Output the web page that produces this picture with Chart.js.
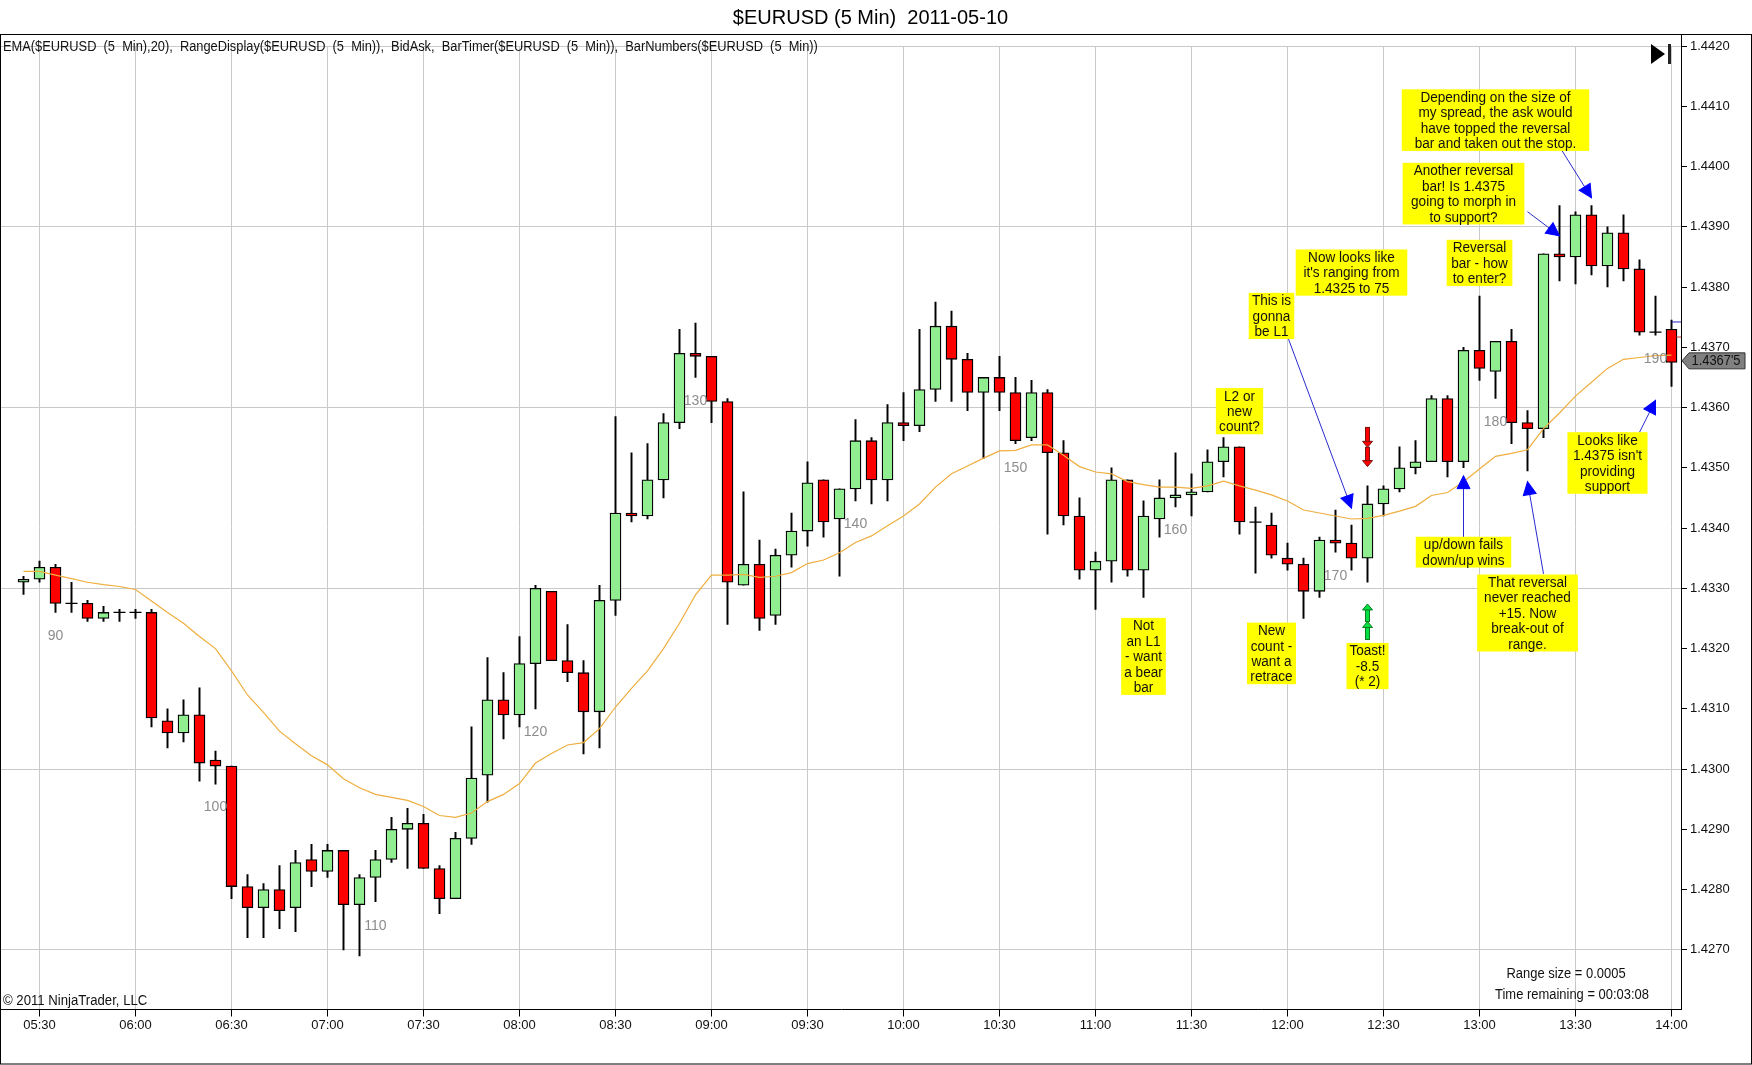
<!DOCTYPE html>
<html>
<head>
<meta charset="utf-8">
<title>$EURUSD (5 Min) 2011-05-10</title>
<script src="https://cdn.jsdelivr.net/npm/chart.js@4"></script>
<style>
    body { margin: 0; background: #fff; }
    canvas { display: block; }
</style>
</head>
<body>
<canvas id="priceChart" width="1752" height="1065"></canvas>
<script>
const opens = [1.4331,1.43315,1.43335,1.43275,1.43275,1.4325,1.4326,1.4326,1.4326,1.4308,1.4306,1.4309,1.43015,1.43005,1.42805,1.4277,1.428,1.4277,1.4285,1.4283,1.42865,1.42775,1.4282,1.4285,1.429,1.4291,1.42835,1.42785,1.42885,1.4299,1.43115,1.4309,1.43175,1.43295,1.4318,1.4316,1.43095,1.4328,1.43425,1.4342,1.4348,1.43575,1.4369,1.43685,1.4361,1.43305,1.4334,1.43255,1.43355,1.43395,1.4348,1.43415,1.43465,1.43545,1.4348,1.43575,1.4357,1.4363,1.43735,1.4368,1.43625,1.4365,1.43625,1.4355,1.43625,1.43525,1.4342,1.4333,1.43345,1.4348,1.4333,1.43415,1.4345,1.43455,1.4346,1.4351,1.43535,1.4341,1.43405,1.4335,1.4334,1.43295,1.4338,1.43375,1.4335,1.4344,1.43465,1.435,1.4351,1.43615,1.4351,1.43695,1.4366,1.4371,1.43575,1.43565,1.43855,1.4385,1.4392,1.43835,1.4389,1.4383,1.43725,1.4373];
const highs = [1.4332,1.43345,1.4334,1.4331,1.4328,1.4327,1.43265,1.43265,1.43265,1.431,1.43115,1.43135,1.4303,1.43005,1.42825,1.4281,1.4284,1.42865,1.42875,1.42875,1.42865,1.42825,1.42865,1.4292,1.42935,1.42925,1.4284,1.42895,1.4307,1.43185,1.4316,1.4322,1.43305,1.43295,1.4324,1.4318,1.43305,1.43585,1.43525,1.4354,1.4359,1.4373,1.4374,1.43685,1.43615,1.4346,1.4338,1.43365,1.43425,1.4351,1.4348,1.43465,1.4358,1.4355,1.43605,1.43625,1.4373,1.43775,1.4376,1.4369,1.4365,1.43685,1.4365,1.43645,1.4363,1.43545,1.4345,1.4336,1.435,1.4348,1.43445,1.4348,1.43525,1.4349,1.4353,1.4355,1.43535,1.43435,1.43425,1.43375,1.4335,1.43385,1.4343,1.43405,1.4347,1.4347,1.43535,1.43545,1.4362,1.4362,1.437,1.43785,1.4371,1.4373,1.43595,1.43855,1.43935,1.43925,1.43935,1.439,1.4392,1.43845,1.43785,1.43745];
const lows = [1.4329,1.4331,1.4326,1.4326,1.43245,1.43245,1.43245,1.4325,1.4307,1.43035,1.43045,1.4298,1.42975,1.42785,1.4272,1.4272,1.42735,1.4273,1.42805,1.4282,1.427,1.4269,1.4278,1.42845,1.42835,1.42835,1.4276,1.42785,1.42875,1.42945,1.4305,1.4307,1.431,1.4318,1.43145,1.43025,1.43035,1.43255,1.4341,1.43415,1.4345,1.43565,1.4365,1.43575,1.4324,1.43305,1.4323,1.4324,1.43335,1.4337,1.43385,1.4332,1.43445,1.4344,1.43445,1.43545,1.4356,1.4361,1.4361,1.43595,1.43515,1.43595,1.4354,1.43545,1.4339,1.43405,1.43315,1.43265,1.4331,1.4332,1.43285,1.43385,1.43435,1.4342,1.4346,1.43485,1.4339,1.43325,1.4335,1.4333,1.4325,1.43285,1.4336,1.4333,1.4331,1.4342,1.4346,1.4349,1.4351,1.43485,1.435,1.43645,1.43615,1.4354,1.43495,1.4355,1.4381,1.43805,1.4382,1.438,1.4381,1.4372,1.4372,1.43635];
const closes = [1.43315,1.43335,1.43275,1.43275,1.4325,1.4326,1.4326,1.4326,1.43085,1.4306,1.4309,1.4301,1.43005,1.42805,1.4277,1.428,1.42765,1.42845,1.4283,1.42865,1.42775,1.4282,1.4285,1.429,1.4291,1.42835,1.42785,1.42885,1.42985,1.43115,1.4309,1.43175,1.433,1.4318,1.4316,1.43095,1.4328,1.43425,1.4342,1.4348,1.43575,1.4369,1.43685,1.4361,1.4331,1.4334,1.4325,1.43355,1.43395,1.43475,1.4341,1.43465,1.43545,1.4348,1.43575,1.4357,1.4363,1.43735,1.4368,1.43625,1.4365,1.43625,1.43545,1.43625,1.43525,1.4342,1.4333,1.43345,1.4348,1.4333,1.4342,1.4345,1.43455,1.4346,1.4351,1.43535,1.4341,1.4341,1.43355,1.4334,1.43295,1.4338,1.43375,1.4335,1.4344,1.43465,1.435,1.4351,1.43615,1.4351,1.43695,1.43665,1.4371,1.43575,1.43565,1.43855,1.4385,1.4392,1.43835,1.4389,1.4383,1.43725,1.43725,1.43675];
const ema20 = [1.43328,1.43328,1.43322,1.43316,1.4331,1.43306,1.43303,1.43298,1.43279,1.4326,1.43242,1.4322,1.432,1.43163,1.43123,1.43094,1.43063,1.43042,1.43022,1.43007,1.42984,1.42969,1.42958,1.42953,1.42948,1.42938,1.42923,1.4292,1.42927,1.42946,1.42958,1.42976,1.4301,1.43026,1.4304,1.43044,1.43067,1.43103,1.43134,1.43163,1.432,1.43242,1.43289,1.43322,1.43322,1.43323,1.43318,1.4332,1.43326,1.43341,1.43347,1.43359,1.43376,1.43387,1.43404,1.4342,1.4344,1.43468,1.4349,1.43503,1.43516,1.43528,1.43529,1.43538,1.43538,1.43521,1.43502,1.43493,1.4349,1.43477,1.43472,1.43468,1.43468,1.43466,1.4347,1.43478,1.4347,1.43463,1.43455,1.43445,1.4343,1.43425,1.4342,1.43415,1.43416,1.43421,1.43428,1.43436,1.43454,1.43459,1.43477,1.43498,1.43519,1.43524,1.4353,1.43565,1.43591,1.43619,1.43642,1.43665,1.4368,1.43683,1.43686,1.43687];

const xTickBars = [1,7,13,19,25,31,37,43,49,55,61,67,73,79,85,91,97,103];
const xTickLabels = ['05:30','06:00','06:30','07:00','07:30','08:00','08:30','09:00','09:30','10:00','10:30','11:00','11:30','12:00','12:30','13:00','13:30','14:00'];
const yTickValues = [1.4270,1.4280,1.4290,1.4300,1.4310,1.4320,1.4330,1.4340,1.4350,1.4360,1.4370,1.4380,1.4390,1.4400,1.4410,1.4420];
const yGridValues = [1.4270,1.4300,1.4330,1.4360,1.4390,1.4420];

const barNumbers = [90,100,110,120,130,140,150,160,170,180,190];
const barNumberBars = [2,12,22,32,42,52,62,72,82,92,102];
const barNumberPrices = [1.4322,1.42937,1.4274,1.43061,1.4361,1.43407,1.435,1.43396,1.43321,1.43575,1.43681];

const noteLines = [
    ['Depending on the size of','my spread, the ask would','have topped the reversal','bar and taken out the stop.'],
    ['Another reversal','bar! Is 1.4375','going to morph in','to support?'],
    ['Now looks like',"it's ranging from",'1.4325 to 75'],
    ['Reversal','bar - how','to enter?'],
    ['This is','gonna','be L1'],
    ['L2 or','new','count?'],
    ['Looks like',"1.4375 isn't",'providing','support'],
    ['up/down fails','down/up wins'],
    ['That reversal','never reached','+15. Now','break-out of','range.'],
    ['Toast!','-8.5','(* 2)'],
    ['New','count -','want a','retrace'],
    ['Not','an L1','- want','a bear','bar']
];
const noteBars = [92,90,83,91,78,76,99,90,94,84,78,70];
const notePrices = [1.44077,1.43955,1.43824,1.4384,1.43752,1.43594,1.43508,1.4336,1.43259,1.43171,1.43192,1.43187];

const arrowFromBars = [96,94,79,90,95,101];
const arrowFromPrices = [1.44033,1.43925,1.43718,1.43383,1.43324,1.43559];
const arrowToBars = [98,96,83,90,94,102];
const arrowToPrices = [1.43948,1.43885,1.43433,1.43487,1.43477,1.43612];

const tradeBar = 84;
const stopArrows = [[1.43567,1.43534],[1.43534,1.43502]];
const entryArrows = [[1.43215,1.43245],[1.43245,1.43274]];

const lastPriceLabel = "1.4367'5";
const askPrice = 1.43742;
const bidPrice = 1.43717;

const upColor = '#90EE90';
const downColor = '#FF0000';
const gridColor = '#C9C9C9';
const sansFont = '"Liberation Sans", Arial, sans-serif';

const bars = opens.map((o, i) => i);

// the screenshot's text is narrower than the font, so squeeze it sideways
function squeezedText(ctx, text, x, y, factor) {
    ctx.save();
    ctx.translate(x, y);
    ctx.scale(factor, 1);
    ctx.fillText(text, 0, 0);
    ctx.restore();
}

function drawHead(ctx, x1, y1, x2, y2, size, halfWidth) {
    const angle = Math.atan2(y2 - y1, x2 - x1);
    ctx.save();
    ctx.translate(x2, y2);
    ctx.rotate(angle);
    ctx.beginPath();
    ctx.moveTo(0, 0);
    ctx.lineTo(-size, -halfWidth);
    ctx.lineTo(-size, halfWidth);
    ctx.closePath();
    ctx.fill();
    ctx.stroke();
    ctx.restore();
}

function drawTradeArrow(ctx, x, yFrom, yTo, color, edge) {
    const dir = yTo > yFrom ? 1 : -1;
    ctx.fillStyle = color;
    ctx.strokeStyle = edge;
    ctx.lineWidth = 1;
    ctx.fillRect(x - 2, yFrom, 4, yTo - yFrom - dir * 5);
    ctx.strokeRect(x - 2, yFrom, 4, yTo - yFrom - dir * 5);
    drawHead(ctx, x, yFrom, x, yTo, 6, 5);
}

const annotationPlugin = {
    id: 'annotations',
    afterDatasetsDraw(chart) {
        const ctx = chart.ctx;
        const xs = chart.scales.x;
        const ys = chart.scales.y;

        // bar numbers
        ctx.save();
        ctx.fillStyle = '#8c8c8c';
        ctx.font = '14px ' + sansFont;
        ctx.textAlign = 'center';
        ctx.textBaseline = 'middle';
        barNumbers.forEach((n, i) => {
            ctx.fillText(String(n), xs.getPixelForValue(barNumberBars[i]), ys.getPixelForValue(barNumberPrices[i]));
        });
        ctx.restore();

        // bid and ask dashes on the last bar
        const lastX = xs.getPixelForValue(bars[bars.length - 1]);
        ctx.save();
        ctx.lineWidth = 1;
        ctx.strokeStyle = '#2020c0';
        ctx.beginPath();
        ctx.moveTo(lastX, ys.getPixelForValue(askPrice));
        ctx.lineTo(chart.chartArea.right, ys.getPixelForValue(askPrice));
        ctx.stroke();
        ctx.strokeStyle = '#d03030';
        ctx.beginPath();
        ctx.moveTo(lastX + 5, ys.getPixelForValue(bidPrice));
        ctx.lineTo(chart.chartArea.right, ys.getPixelForValue(bidPrice));
        ctx.stroke();
        ctx.restore();

        // note arrows go under the yellow boxes
        ctx.save();
        arrowFromBars.forEach((b, i) => {
            const x1 = xs.getPixelForValue(b);
            const y1 = ys.getPixelForValue(arrowFromPrices[i]);
            const x2 = xs.getPixelForValue(arrowToBars[i]);
            const y2 = ys.getPixelForValue(arrowToPrices[i]);
            ctx.strokeStyle = '#2a2ad0';
            ctx.lineWidth = 1;
            ctx.beginPath();
            ctx.moveTo(x1, y1);
            ctx.lineTo(x2, y2);
            ctx.stroke();
            ctx.fillStyle = '#0000FF';
            ctx.strokeStyle = '#0000FF';
            drawHead(ctx, x1, y1, x2, y2, 13, 6.5);
        });
        ctx.restore();

        // yellow notes
        ctx.save();
        ctx.font = '14px ' + sansFont;
        ctx.textAlign = 'center';
        ctx.textBaseline = 'middle';
        noteLines.forEach((lines, i) => {
            const cx = xs.getPixelForValue(noteBars[i]);
            const cy = ys.getPixelForValue(notePrices[i]);
            const w = Math.max(...lines.map(l => ctx.measureText(l).width)) * 0.97 * 1.16;
            const h = lines.length * 15.4;
            ctx.fillStyle = '#FFFF00';
            ctx.fillRect(cx - w / 2, cy - h / 2, w, h);
            ctx.fillStyle = '#111';
            lines.forEach((l, j) => {
                squeezedText(ctx, l, cx, cy - h / 2 + 15.4 * (j + 0.5) + 1, 0.97);
            });
        });
        ctx.restore();

        // trade markers
        ctx.save();
        const tradeX = xs.getPixelForValue(tradeBar);
        stopArrows.forEach(a => drawTradeArrow(ctx, tradeX, ys.getPixelForValue(a[0]), ys.getPixelForValue(a[1]), downColor, '#7a1010'));
        entryArrows.forEach(a => drawTradeArrow(ctx, tradeX, ys.getPixelForValue(a[0]), ys.getPixelForValue(a[1]), '#00E040', '#0c7a20'));
        ctx.restore();

        // indicator captions
        ctx.save();
        ctx.fillStyle = '#111';
        ctx.textBaseline = 'middle';
        ctx.font = '14px ' + sansFont;
        squeezedText(ctx, 'EMA($EURUSD  (5  Min),20),  RangeDisplay($EURUSD  (5  Min)),  BidAsk,  BarTimer($EURUSD  (5  Min)),  BarNumbers($EURUSD  (5  Min))', 3, 47, 0.917);
        squeezedText(ctx, '\u00A9 2011 NinjaTrader, LLC', 3, 1001, 0.94);
        ctx.textAlign = 'center';
        squeezedText(ctx, 'Range size = 0.0005', 1566, 974, 0.925);
        squeezedText(ctx, 'Time remaining = 00:03:08', 1572, 995, 0.925);
        ctx.restore();

        // skip-to-end button
        ctx.save();
        ctx.fillStyle = '#000';
        ctx.beginPath();
        ctx.moveTo(1651, 44);
        ctx.lineTo(1665, 54);
        ctx.lineTo(1651, 64);
        ctx.closePath();
        ctx.fill();
        ctx.fillStyle = '#222';
        ctx.fillRect(1668, 44, 3, 20);
        ctx.restore();

        // frame, with the price axis running up to the top border
        ctx.save();
        ctx.strokeStyle = '#000';
        ctx.lineWidth = 1;
        ctx.strokeRect(0.5, 34.5, 1751, 1029.5);
        ctx.beginPath();
        ctx.moveTo(chart.chartArea.right + 0.5, 34.5);
        ctx.lineTo(chart.chartArea.right + 0.5, chart.chartArea.top);
        ctx.stroke();
        ctx.restore();

        // last price flag, sits a little above the close like the original
        const flagY = ys.getPixelForValue(closes[closes.length - 1]) - 1.5;
        const flagX = chart.chartArea.right;
        ctx.save();
        ctx.fillStyle = '#808080';
        ctx.strokeStyle = '#333';
        ctx.lineWidth = 1;
        ctx.beginPath();
        ctx.moveTo(flagX + 1, flagY);
        ctx.lineTo(flagX + 8, flagY - 8);
        ctx.lineTo(flagX + 64, flagY - 8);
        ctx.lineTo(flagX + 64, flagY + 8);
        ctx.lineTo(flagX + 8, flagY + 8);
        ctx.closePath();
        ctx.fill();
        ctx.stroke();
        ctx.fillStyle = '#111';
        ctx.font = '14px ' + sansFont;
        ctx.textBaseline = 'middle';
        ctx.textAlign = 'center';
        squeezedText(ctx, lastPriceLabel, flagX + 35, flagY, 0.92);
        ctx.restore();
    }
};

const ctx = document.getElementById('priceChart').getContext('2d');
const chart = new Chart(ctx, {
    type: 'bar',
    plugins: [annotationPlugin],
    data: {
        datasets: [
            {
                type: 'line',
                label: 'EMA',
                data: bars.map(i => ({ x: i, y: ema20[i] })),
                borderColor: '#EFAE3F',
                borderWidth: 1.2,
                pointRadius: 0,
                tension: 0,
                order: 1
            },
            {
                label: 'Doji',
                type: 'line',
                showLine: false,
                data: bars.filter(i => opens[i] === closes[i]).map(i => ({ x: i, y: closes[i] })),
                pointStyle: 'line',
                pointRadius: 6,
                pointBorderColor: '#000',
                pointBorderWidth: 1.3,
                order: 2
            },
            {
                label: 'Body',
                data: bars.filter(i => opens[i] !== closes[i]).map(i => ({ x: i, y: [opens[i], closes[i]] })),
                backgroundColor: bars.filter(i => opens[i] !== closes[i]).map(i => closes[i] > opens[i] ? upColor : downColor),
                borderColor: '#000',
                borderWidth: 1.3,
                borderSkipped: false,
                barThickness: 11,
                grouped: false,
                order: 3
            },
            {
                label: 'Range',
                data: bars.map(i => ({ x: i, y: [lows[i], highs[i]] })),
                backgroundColor: '#000',
                barThickness: 1.3,
                grouped: false,
                order: 4
            }
        ]
    },
    options: {
        responsive: false,
        animation: false,
        devicePixelRatio: 1,
        layout: { autoPadding: false, padding: { left: 1, right: 12, top: 0, bottom: 0 } },
        plugins: {
            legend: { display: false },
            tooltip: { enabled: false },
            title: {
                display: true,
                text: '$EURUSD (5 Min)  2011-05-10',
                color: '#000',
                font: { family: sansFont, size: 20, weight: 'normal' },
                padding: { top: 6, bottom: 16 }
            }
        },
        scales: {
            x: {
                type: 'linear',
                offset: false,
                min: -1.40625,
                max: 103.59375,
                afterBuildTicks: scale => { scale.ticks = xTickBars.map(v => ({ value: v })); },
                afterFit: scale => {
                    scale.height = 55.5;
                    scale.paddingLeft = 0;
                    scale.paddingRight = 0;
                },
                grid: { color: gridColor, tickColor: '#000', tickLength: 7, offset: false },
                border: { color: '#000' },
                ticks: {
                    autoSkip: false,
                    maxRotation: 0,
                    padding: 1,
                    color: '#111',
                    font: { family: sansFont, size: 13 },
                    callback: value => xTickLabels[xTickBars.indexOf(value)]
                }
            },
            y: {
                position: 'right',
                min: 1.42601,
                max: 1.4420,
                afterBuildTicks: scale => { scale.ticks = yTickValues.map(v => ({ value: v })); },
                afterFit: scale => {
                    scale.width = 59;
                    scale.paddingTop = 0;
                    scale.paddingBottom = 0;
                },
                grid: {
                    color: c => yGridValues.includes(c.tick.value) ? gridColor : 'rgba(0,0,0,0)',
                    tickColor: '#000',
                    tickLength: 6
                },
                border: { color: '#000' },
                ticks: {
                    padding: 3,
                    color: '#111',
                    font: { family: sansFont, size: 13 },
                    callback: value => value.toFixed(4)
                }
            }
        }
    }
});
</script>
</body>
</html>
